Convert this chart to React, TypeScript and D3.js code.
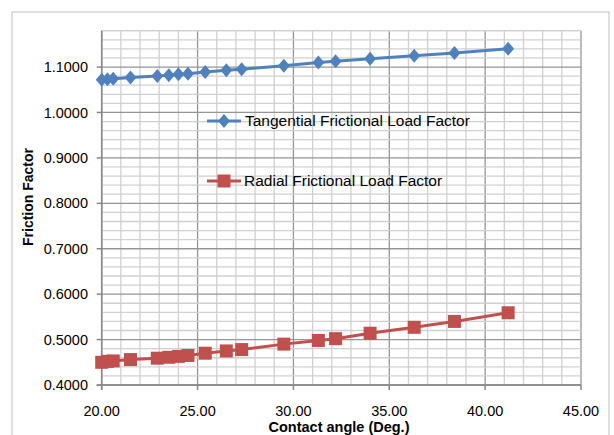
import React from "react";
import * as d3 from "d3";

const contactAngle = [20.0, 20.3, 20.6, 21.5, 22.9, 23.5, 24.0, 24.5, 25.4, 26.5, 27.3, 29.5, 31.3, 32.2, 34.0, 36.3, 38.4, 41.2];
const tangential = [1.072, 1.073, 1.074, 1.077, 1.080, 1.082, 1.084, 1.085, 1.089, 1.093, 1.095, 1.103, 1.110, 1.113, 1.118, 1.125, 1.131, 1.140];
const radial = [0.450, 0.452, 0.453, 0.456, 0.459, 0.461, 0.463, 0.465, 0.470, 0.475, 0.478, 0.490, 0.498, 0.502, 0.514, 0.527, 0.540, 0.559];
const xTicks = [20, 25, 30, 35, 40, 45];
const yTicks = [0.4, 0.5, 0.6, 0.7, 0.8, 0.9, 1.0, 1.1];
const seriesNames = ["Tangential Frictional Load Factor", "Radial Frictional Load Factor"];

const W = 614, H = 435;
const plot = { left: 101.7, right: 581, top: 30.7, bottom: 385 };
const font = "'Liberation Sans', Arial, sans-serif";

export default function App() {
  const x = d3.scaleLinear().domain([20, 45]).range([plot.left, plot.right]);
  const y = d3.scaleLinear().domain([0.4, 1.18]).range([plot.bottom, plot.top]);
  const xMinor = d3.range(20, 45.001, 1);
  const yMinor = d3.range(0.4, 1.1801, 0.02);
  const line = d3.line<[number, number]>().x(d => x(d[0])).y(d => y(d[1]));
  const tData = contactAngle.map((a, i) => [a, tangential[i]] as [number, number]);
  const rData = contactAngle.map((a, i) => [a, radial[i]] as [number, number]);
  const blue = "#4F81BD", red = "#C0504D";
  const diamond = (cx: number, cy: number, r = 7) => `M${cx},${cy - r}L${cx + r * 0.85},${cy}L${cx},${cy + r}L${cx - r * 0.85},${cy}Z`;
  const sq = 6.5;
  return (
    <svg width={W} height={H} style={{ position: "absolute", left: 0, top: 0, background: "#fff" }}>
      <rect x={12} y={12} width={597} height={440} fill="#fff" stroke="#bfbfbf" strokeWidth={1} />
      {xMinor.map(v => (
        <line key={"xm" + v} x1={x(v)} x2={x(v)} y1={plot.top} y2={plot.bottom} stroke={v % 5 === 0 ? "#959595" : "#d0d0d0"} strokeWidth={1.3} />
      ))}
      {yMinor.map((v, i) => (
        <line key={"ym" + i} x1={plot.left} x2={plot.right} y1={y(v)} y2={y(v)} stroke={i % 5 === 0 ? "#959595" : "#d0d0d0"} strokeWidth={1.3} />
      ))}
      <line x1={plot.left} x2={plot.right} y1={plot.top} y2={plot.top} stroke="#d0d0d0" strokeWidth={1.3} />
      <line x1={plot.left} x2={plot.left} y1={plot.top} y2={plot.bottom + 5} stroke="#868686" strokeWidth={1.5} />
      <line x1={plot.left - 5} x2={plot.right} y1={plot.bottom} y2={plot.bottom} stroke="#868686" strokeWidth={1.5} />
      {yTicks.map(v => (
        <g key={"yt" + v}>
          <line x1={plot.left - 5} x2={plot.left} y1={y(v)} y2={y(v)} stroke="#868686" strokeWidth={1.5} />
          <text x={88} y={y(v)} dy="0.35em" textAnchor="end" fontFamily={font} fontSize={14.5} fill="#000">{v.toFixed(4)}</text>
        </g>
      ))}
      {xTicks.map(v => (
        <g key={"xt" + v}>
          <line x1={x(v)} x2={x(v)} y1={plot.bottom} y2={plot.bottom + 5} stroke="#868686" strokeWidth={1.5} />
          <text x={x(v)} y={416} textAnchor="middle" fontFamily={font} fontSize={14.5} fill="#000">{v.toFixed(2)}</text>
        </g>
      ))}
      <path d={line(tData) || ""} fill="none" stroke={blue} strokeWidth={3} />
      {tData.map((d, i) => <path key={"td" + i} d={diamond(x(d[0]), y(d[1]))} fill={blue} />)}
      <path d={line(rData) || ""} fill="none" stroke={red} strokeWidth={3} />
      {rData.map((d, i) => <rect key={"rd" + i} x={x(d[0]) - sq} y={y(d[1]) - sq} width={sq * 2} height={sq * 2} fill={red} />)}
      <g>
        <line x1={207} x2={241} y1={121} y2={121} stroke={blue} strokeWidth={3} />
        <path d={diamond(224, 121)} fill={blue} />
        <text x={245} y={121} dy="0.35em" fontFamily={font} fontSize={15.5} fill="#000">{seriesNames[0]}</text>
        <line x1={207} x2={241} y1={181} y2={181} stroke={red} strokeWidth={3} />
        <rect x={224 - sq} y={181 - sq} width={sq * 2} height={sq * 2} fill={red} />
        <text x={244} y={181} dy="0.35em" fontFamily={font} fontSize={15.5} fill="#000">{seriesNames[1]}</text>
      </g>
      <text x={339} y={432} textAnchor="middle" fontFamily={font} fontSize={14.5} fontWeight="bold" fill="#000">Contact angle (Deg.)</text>
      <text transform="translate(33,197) rotate(-90)" textAnchor="middle" fontFamily={font} fontSize={14} fontWeight="bold" fill="#000">Friction Factor</text>
    </svg>
  );
}
